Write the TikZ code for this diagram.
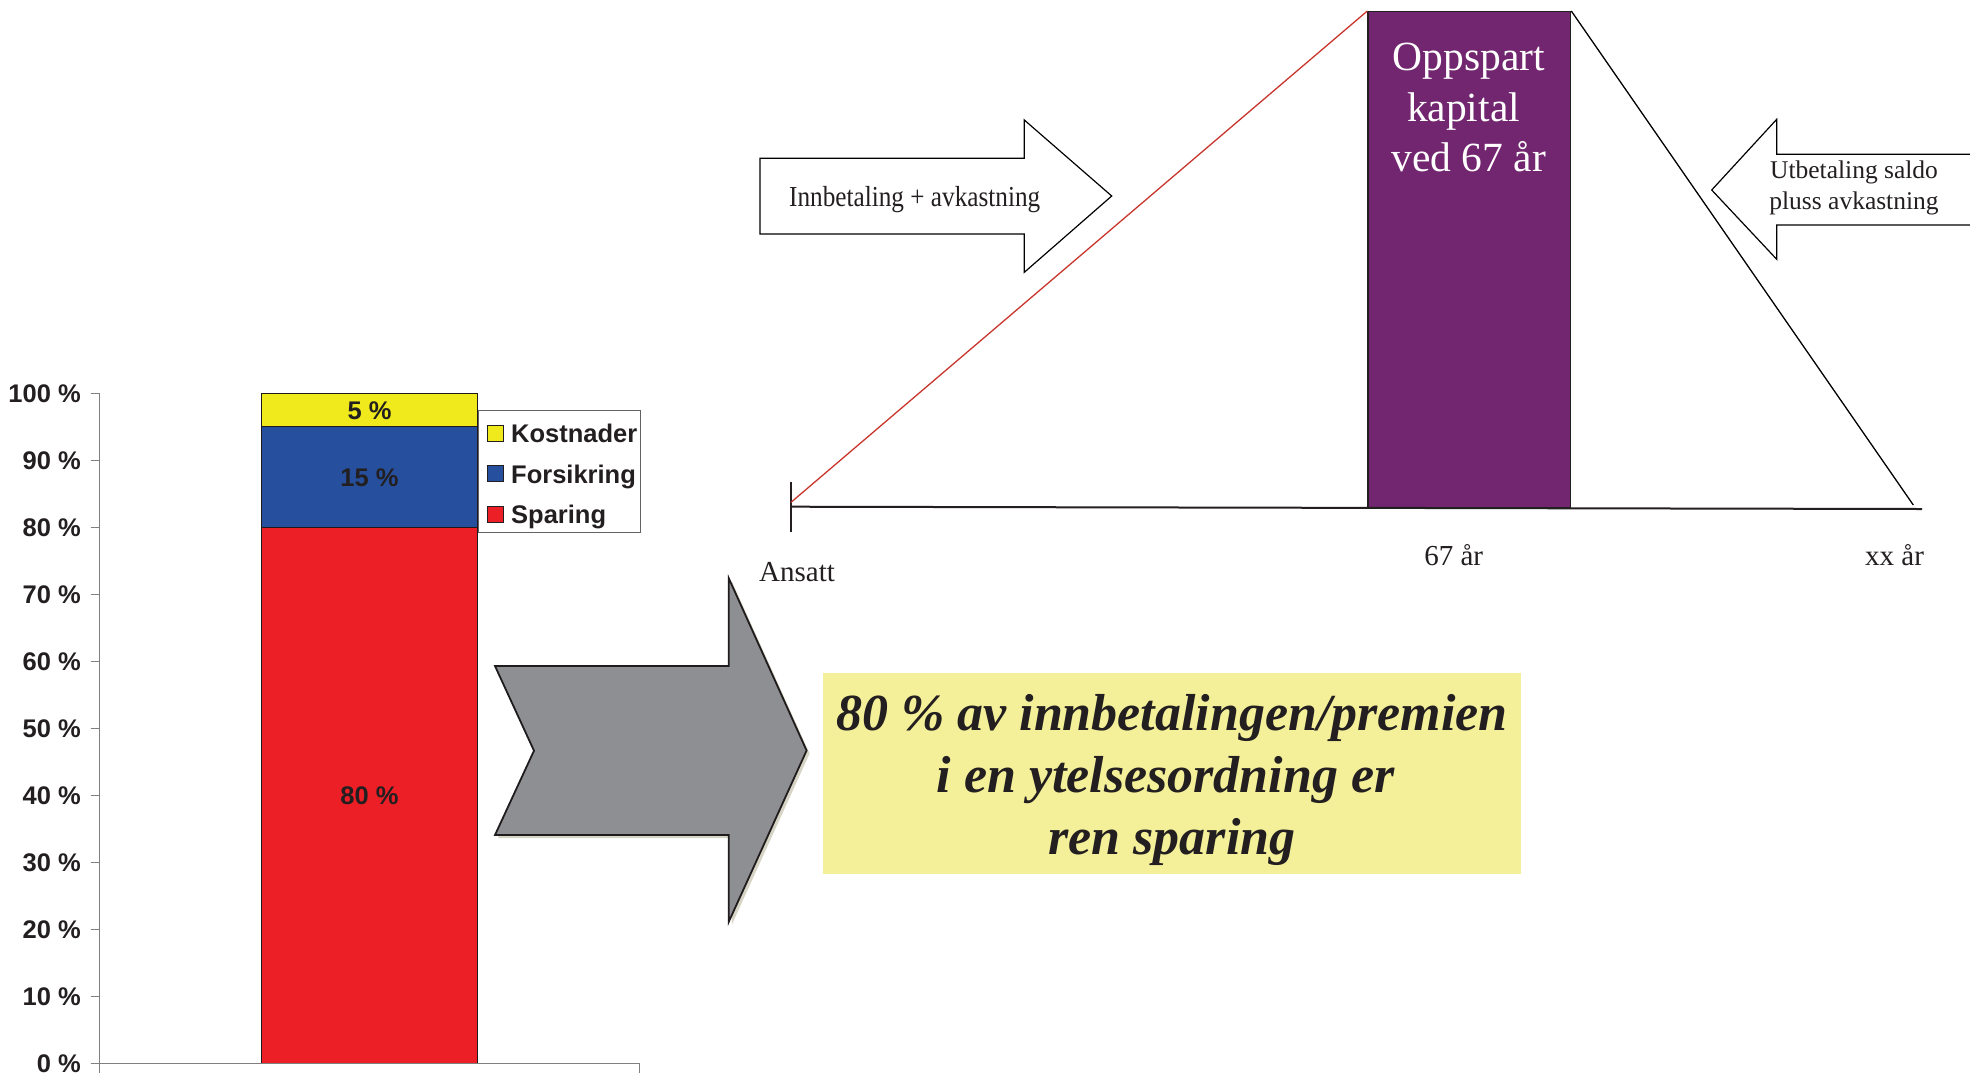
\documentclass[tikz,border=0pt]{standalone}
\usepackage{fontspec}
\setmainfont{Liberation Serif}
\setsansfont{Liberation Sans}
\usepackage{graphicx}
\definecolor{txt}{HTML}{231F20}
\definecolor{barred}{HTML}{EC1F27}
\definecolor{barblue}{HTML}{26509E}
\definecolor{baryellow}{HTML}{F0E91B}
\definecolor{axisgray}{HTML}{7F7F7F}
\definecolor{capurple}{HTML}{72266F}
\definecolor{growred}{HTML}{C9362E}
\definecolor{arrowgray}{HTML}{8E8F93}
\definecolor{noteyellow}{HTML}{F4F09A}
\definecolor{shadowc}{HTML}{D6D4C4}
\tikzset{
  chartlbl/.style={font=\sffamily\bfseries\fontsize{25.5}{30}\selectfont, text=txt, inner sep=0pt},
  axisline/.style={draw=axisgray, line width=1.4pt},
  segline/.style={draw=txt!85!black, line width=1.3pt},
  legsq/.style={draw=txt, line width=0.9pt, minimum size=16pt, inner sep=0pt},
  serifsm/.style={font=\fontsize{29}{34}\selectfont, text=txt, inner sep=0pt},
  outarrow/.style={draw=black, line width=1.2pt, fill=white, line join=miter},
  timeline/.style={draw=txt, line width=2pt},
  captext/.style={font=\fontsize{41.5}{50.5}\selectfont, text=white, align=center, inner sep=0pt},
  notetext/.style={font=\bfseries\itshape\fontsize{52}{61.7}\selectfont, text=txt, align=center, inner sep=0pt}
}
\begin{document}
\begin{tikzpicture}[x=1pt,y=-1pt]
\useasboundingbox (0,0) rectangle (1970,1072);
\fill[white] (0,0) rectangle (1970,1072);

% ---------------- bar chart ----------------
\draw[axisline] (99.7,393.3) -- (99.7,1075);
\foreach \v in {0,10,...,100} {
  \pgfmathsetmacro\yy{1063.3-6.7*\v}
  \draw[axisline] (90.7,\yy) -- (99.7,\yy);
  \node[chartlbl, anchor=base east] (yl\v) at (81,\yy+9.5) {\v\ \%};
}
\draw[segline, fill=barred] (261.7,527.3) rectangle (477.3,1063.3);
\draw[segline, fill=barblue] (261.7,426.8) rectangle (477.3,527.3);
\draw[segline, fill=baryellow] (261.7,393.3) rectangle (477.3,426.8);
\draw[axisline] (90.7,1063.3) -- (639.5,1063.3) -- (639.5,1075);
\node[chartlbl, anchor=base] (l5) at (369.5,419.2) {5 \%};
\node[chartlbl, anchor=base] (l15) at (369.5,486.2) {15 \%};
\node[chartlbl, anchor=base] (l80) at (369.5,804.3) {80 \%};

% legend
\draw[draw=txt!70, line width=1pt] (478.3,410.7) rectangle (640,532.7);
\node[legsq, fill=baryellow] (sqk) at (495.3,433.3) {};
\node[legsq, fill=barblue] (sqf) at (495.3,473.3) {};
\node[legsq, fill=barred] (sqs) at (495.3,514) {};
\node[chartlbl, anchor=base west] (lk) at (511,442.8) {Kostnader};
\node[chartlbl, anchor=base west] (lf) at (511,483.3) {Forsikring};
\node[chartlbl, anchor=base west] (ls) at (511,523.3) {Sparing};

% ---------------- capital diagram ----------------
\draw[outarrow] (760,158.3) -- (1024.3,158.3) -- (1024.3,120) -- (1111.7,196)
  -- (1024.3,272.3) -- (1024.3,234) -- (760,234) -- cycle;
\node[font=\fontsize{29}{34}\selectfont, text=txt, inner sep=0pt, anchor=base] (inn)
  at (914.7,206.7) {\scalebox{0.87}[1]{Innbetaling + avkastning}};

\draw[outarrow] (1975,154.3) -- (1776.7,154.3) -- (1776.7,119.3) -- (1711.7,190)
  -- (1776.7,259.3) -- (1776.7,225) -- (1975,225);
\node[font=\fontsize{25.5}{31}\selectfont, text=txt, inner sep=0pt, align=center, anchor=base] (utb)
  at (1854,209.3) {Utbetaling saldo\\pluss avkastning};

\node[draw=txt, line width=1.3pt, fill=capurple, minimum width=202.7pt, minimum height=496pt,
  anchor=north west, inner sep=0pt] (cap) at (1367.3,11) {};
\node[captext, anchor=base] (captxt) at (1468.7,171.7) {Oppspart\\kapital\kern.25em\\ved 67 år};

\coordinate (o) at (791,506.7);
\coordinate (xend) at (1922,509);
\draw[timeline] (o) -- (xend);
\coordinate (tickt) at (791,481.7);
\coordinate (tickb) at (791,532.3);
\draw[draw=txt, line width=1.4pt] (tickt) -- (tickb);
\coordinate (redstart) at (791,502.3);
\draw[growred, line width=1.3pt] (redstart) -- (cap.north west);
\coordinate (payend) at (1913.3,505);
\draw[black, line width=1.3pt] (cap.north east) -- (payend);

\node[serifsm, anchor=base west] (ansatt) at (759,581.7) {Ansatt};
\node[serifsm, anchor=base] (age67) at (1453.7,565) {67 år};
\node[serifsm, anchor=base] (agexx) at (1894.5,565) {xx år};

% ---------------- big arrow and note ----------------
\fill[shadowc, shift={(3,3)}] (495,666) -- (728.8,666) -- (728.8,578.3) -- (806.6,750.5)
  -- (728.8,921.7) -- (728.8,835) -- (495,835) -- (534,750.7) -- cycle;
\draw[draw=txt!90!black, line width=1.8pt, fill=arrowgray, line join=miter]
  (495,666) -- (728.8,666) -- (728.8,578.3) -- (806.6,750.5)
  -- (728.8,921.7) -- (728.8,835) -- (495,835) -- (534,750.7) -- cycle;

\node[fill=noteyellow, minimum width=698.2pt, minimum height=201pt, anchor=north west,
  inner sep=0pt] (note) at (822.8,673) {};
\node[notetext, anchor=base] (notetxt) at (1172,854)
  {80 \% av innbetalingen/premien\\i en ytelsesordning er\kern.25em\\ren sparing};
\end{tikzpicture}
\end{document}
